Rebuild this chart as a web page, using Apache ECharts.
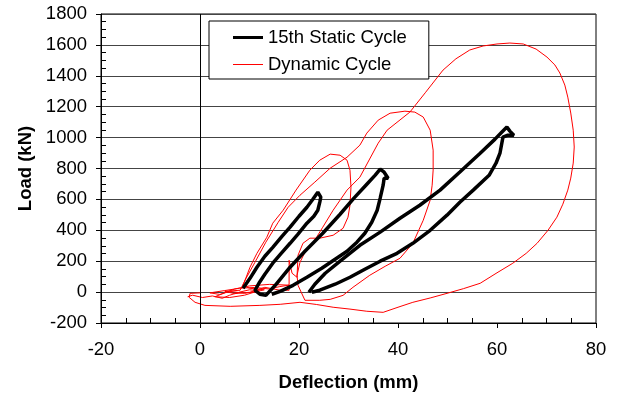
<!DOCTYPE html>
<html>
<head>
<meta charset="utf-8">
<script src="https://cdn.jsdelivr.net/npm/echarts@6/dist/echarts.min.js"></script>
<style>
html, body { margin: 0; padding: 0; background: #fff; }
#chart { width: 617px; height: 394px; }
</style>
</head>
<body>
<div id="chart"></div>
<script>
// axis ranges
const xRange = [-20, 80];
const yRange = [-200, 1800];

// 15th static cycle, first two loops (deflection mm, load kN)
const staticLoops12 = [
  [8.7, 25], [10.1, 89], [11.5, 161], [13.1, 232], [14.7, 290], [16.6, 362], [18.2, 420],
  [20.0, 491], [21.6, 549], [22.8, 601], [23.8, 647], [24.4, 614], [24.2, 620], [24.2, 582],
  [23.8, 530], [23.0, 491], [21.6, 446], [19.8, 375], [18.2, 316], [16.4, 251], [14.7, 187],
  [13.1, 115], [11.9, 57], [11.1, 12], [12.1, -14], [13.3, -21],
  [15.2, 44], [18.2, 161], [21.2, 264], [24.8, 381], [28.3, 504], [31.1, 608], [33.7, 698],
  [35.4, 757], [36.4, 796], [37.2, 776], [38.0, 737], [37.2, 737], [37.0, 692], [36.4, 608],
  [35.8, 530], [34.7, 452], [33.3, 381], [31.7, 323], [29.7, 264], [27.3, 213], [24.6, 154],
  [21.6, 96], [18.8, 44], [16.2, 5], [14.5, -14]
];

// 15th static cycle, third loop
const staticLoop3 = [
  [22.0, -1], [23.2, 51], [25.3, 122], [28.3, 200], [32.3, 303], [36.4, 388], [40.4, 478],
  [44.4, 562], [48.5, 660], [52.5, 777], [56.6, 899], [59.6, 990], [61.0, 1036], [62.0, 1068],
  [62.6, 1042], [63.4, 1016], [62.2, 1016], [61.2, 1003], [60.6, 899], [59.8, 834], [58.4, 756],
  [55.2, 660], [52.5, 582], [49.9, 498], [46.5, 400], [43.0, 316], [39.8, 251], [36.4, 200],
  [33.3, 148], [30.3, 96], [27.3, 51], [24.2, 12], [22.6, -1]
];

// dynamic cycle
const dynamicCycle = [
  [-2.5, -30], [-1.5, -20], [0.5, -35], [2.5, -25], [4.5, -40], [6, -20], [8, 0], [10, 15],
  [12, 8], [9, -8], [6, 5], [4, -15], [2, -5], [5, 10], [8, 25], [11, 30], [14, 20], [16, 35],
  [18, 45], [14, 50], [10, 40], [7, 20], [5, -5], [3, -30], [6, -35], [9, -20], [11, 0],
  [13, 15], [10, 25], [8.7, 44],
  [10.1, 161], [11.5, 251], [13.5, 355], [14.7, 446], [16.8, 530], [19.4, 660], [22.2, 789],
  [24.2, 854], [26.3, 893], [28.3, 886], [29.7, 854], [30.3, 789], [30.5, 679], [30.3, 562],
  [29.9, 485], [28.9, 413], [26.9, 368], [24.2, 349], [22.2, 349], [20.8, 316], [19.8, 238],
  [19.6, 96], [18.6, 122], [18.0, 206], [18.0, 12], [16.2, 12], [13.1, 31], [10.1, -1],
  [7, -10], [5, 5], [8.1, 12],
  [9.3, 89], [11.1, 193], [13.3, 323], [15.8, 452], [17.8, 549], [20.2, 627], [23.2, 712],
  [26.3, 802], [29.7, 873], [32.3, 951], [33.7, 1029], [36.0, 1113], [38.4, 1158], [41.4, 1171],
  [43.4, 1165], [45.1, 1133], [46.5, 1048], [47.1, 919], [47.1, 790], [46.9, 692], [46.5, 595],
  [45.1, 465], [43.0, 316], [40.4, 219], [37.4, 167], [34.3, 109], [30.9, 31], [28.9, -21],
  [26.3, -47], [24.2, -53], [21.2, -53],
  [19.8, 44], [19.6, 109], [20.2, 193], [21.2, 258], [22.8, 316], [24.8, 420], [26.9, 530],
  [29.7, 660], [32.3, 744], [36.0, 964], [37.8, 1048], [42.4, 1165], [45.5, 1290], [49.1, 1437],
  [51.7, 1510], [54.5, 1567], [57.2, 1593], [60, 1606], [62.6, 1612], [65.3, 1606], [67.9, 1573],
  [70.1, 1521], [71.7, 1470], [72.7, 1418], [73.7, 1340], [74.3, 1262], [74.9, 1159], [75.4, 1048],
  [75.6, 939], [75.4, 835], [74.9, 738], [74.3, 660], [73.3, 569], [72.1, 485], [70.3, 400],
  [68.1, 316], [65.9, 251], [63.2, 187], [60, 125], [56.6, 57], [53.2, 22], [49.9, -8],
  [46.5, -38], [43.0, -66], [40, -98], [37.0, -131], [33.7, -124], [30.3, -110], [26.9, -98],
  [23.5, -80], [20.2, -66], [16.2, -79], [12.1, -86],
  [6.1, -92], [1, -86], [-1, -66], [-2.2, -34], [-2, -8], [0, -5]
];

const font = "'Liberation Sans', Arial, sans-serif";

const chart = echarts.init(document.getElementById('chart'));
chart.setOption({
  animation: false,
  backgroundColor: '#fff',
  grid: {
    left: 101, right: 21, top: 14, bottom: 71,
    containLabel: false, outerBoundsMode: 'none',
    show: true, borderColor: '#000', borderWidth: 1
  },
  legend: {
    orient: 'vertical',
    left: 209, top: 21,
    padding: [7, 22, 5, 24],
    itemWidth: 30, itemHeight: 18, itemGap: 8,
    backgroundColor: '#fff',
    borderColor: '#000', borderWidth: 1,
    textStyle: { fontFamily: font, fontSize: 18.5, color: '#000' },
    data: [
      { name: '15th Static Cycle', icon: 'path://M0 0H30V3H0Z' },
      { name: 'Dynamic Cycle', icon: 'path://M0 0H30V1H0Z' }
    ]
  },
  xAxis: {
    type: 'value',
    min: xRange[0], max: xRange[1], interval: 20,
    name: 'Deflection (mm)',
    nameLocation: 'middle', nameGap: 50,
    nameTextStyle: { fontFamily: font, fontSize: 18.5, fontWeight: 'bold', color: '#000' },
    axisLine: { onZero: false, lineStyle: { color: '#000', width: 1 } },
    axisTick: { show: true, inside: false, length: 5, lineStyle: { color: '#000' } },
    minorTick: { show: true, splitNumber: 4, length: -5, lineStyle: { color: '#000' } },
    axisLabel: { fontFamily: font, fontSize: 18.5, color: '#000', margin: 17 },
    splitLine: { show: false }
  },
  yAxis: {
    type: 'value',
    min: yRange[0], max: yRange[1], interval: 200,
    name: 'Load (kN)',
    nameLocation: 'middle', nameGap: 58,
    nameTextStyle: { fontFamily: font, fontSize: 18.5, fontWeight: 'bold', color: '#000' },
    axisLine: { onZero: false, lineStyle: { color: '#000', width: 1 } },
    axisTick: { show: true, inside: false, length: 5, lineStyle: { color: '#000' } },
    minorTick: { show: true, splitNumber: 4, length: -5, lineStyle: { color: '#000' } },
    axisLabel: {
      fontFamily: font, fontSize: 18.5, color: '#000', margin: 14,
      formatter: v => String(v)
    },
    splitLine: { show: true, lineStyle: { color: '#444', width: 1 } }
  },
  series: [
    {
      name: 'Dynamic Cycle',
      type: 'line',
      data: dynamicCycle,
      symbol: 'none',
      color: '#ff0000',
      lineStyle: { color: '#ff0000', width: 1 },
      z: 2,
      markLine: {
        silent: true,
        symbol: 'none',
        label: { show: false },
        lineStyle: { color: '#000', width: 1, type: 'solid' },
        data: [{ xAxis: 0 }]
      }
    },
    {
      name: '15th Static Cycle',
      type: 'line',
      data: staticLoops12,
      symbol: 'none',
      color: '#000',
      lineStyle: { color: '#000', width: 3.5 },
      z: 3
    },
    {
      name: '15th Static Cycle',
      type: 'line',
      data: staticLoop3,
      symbol: 'none',
      color: '#000',
      lineStyle: { color: '#000', width: 3.5 },
      z: 3
    }
  ]
});
</script>
</body>
</html>
